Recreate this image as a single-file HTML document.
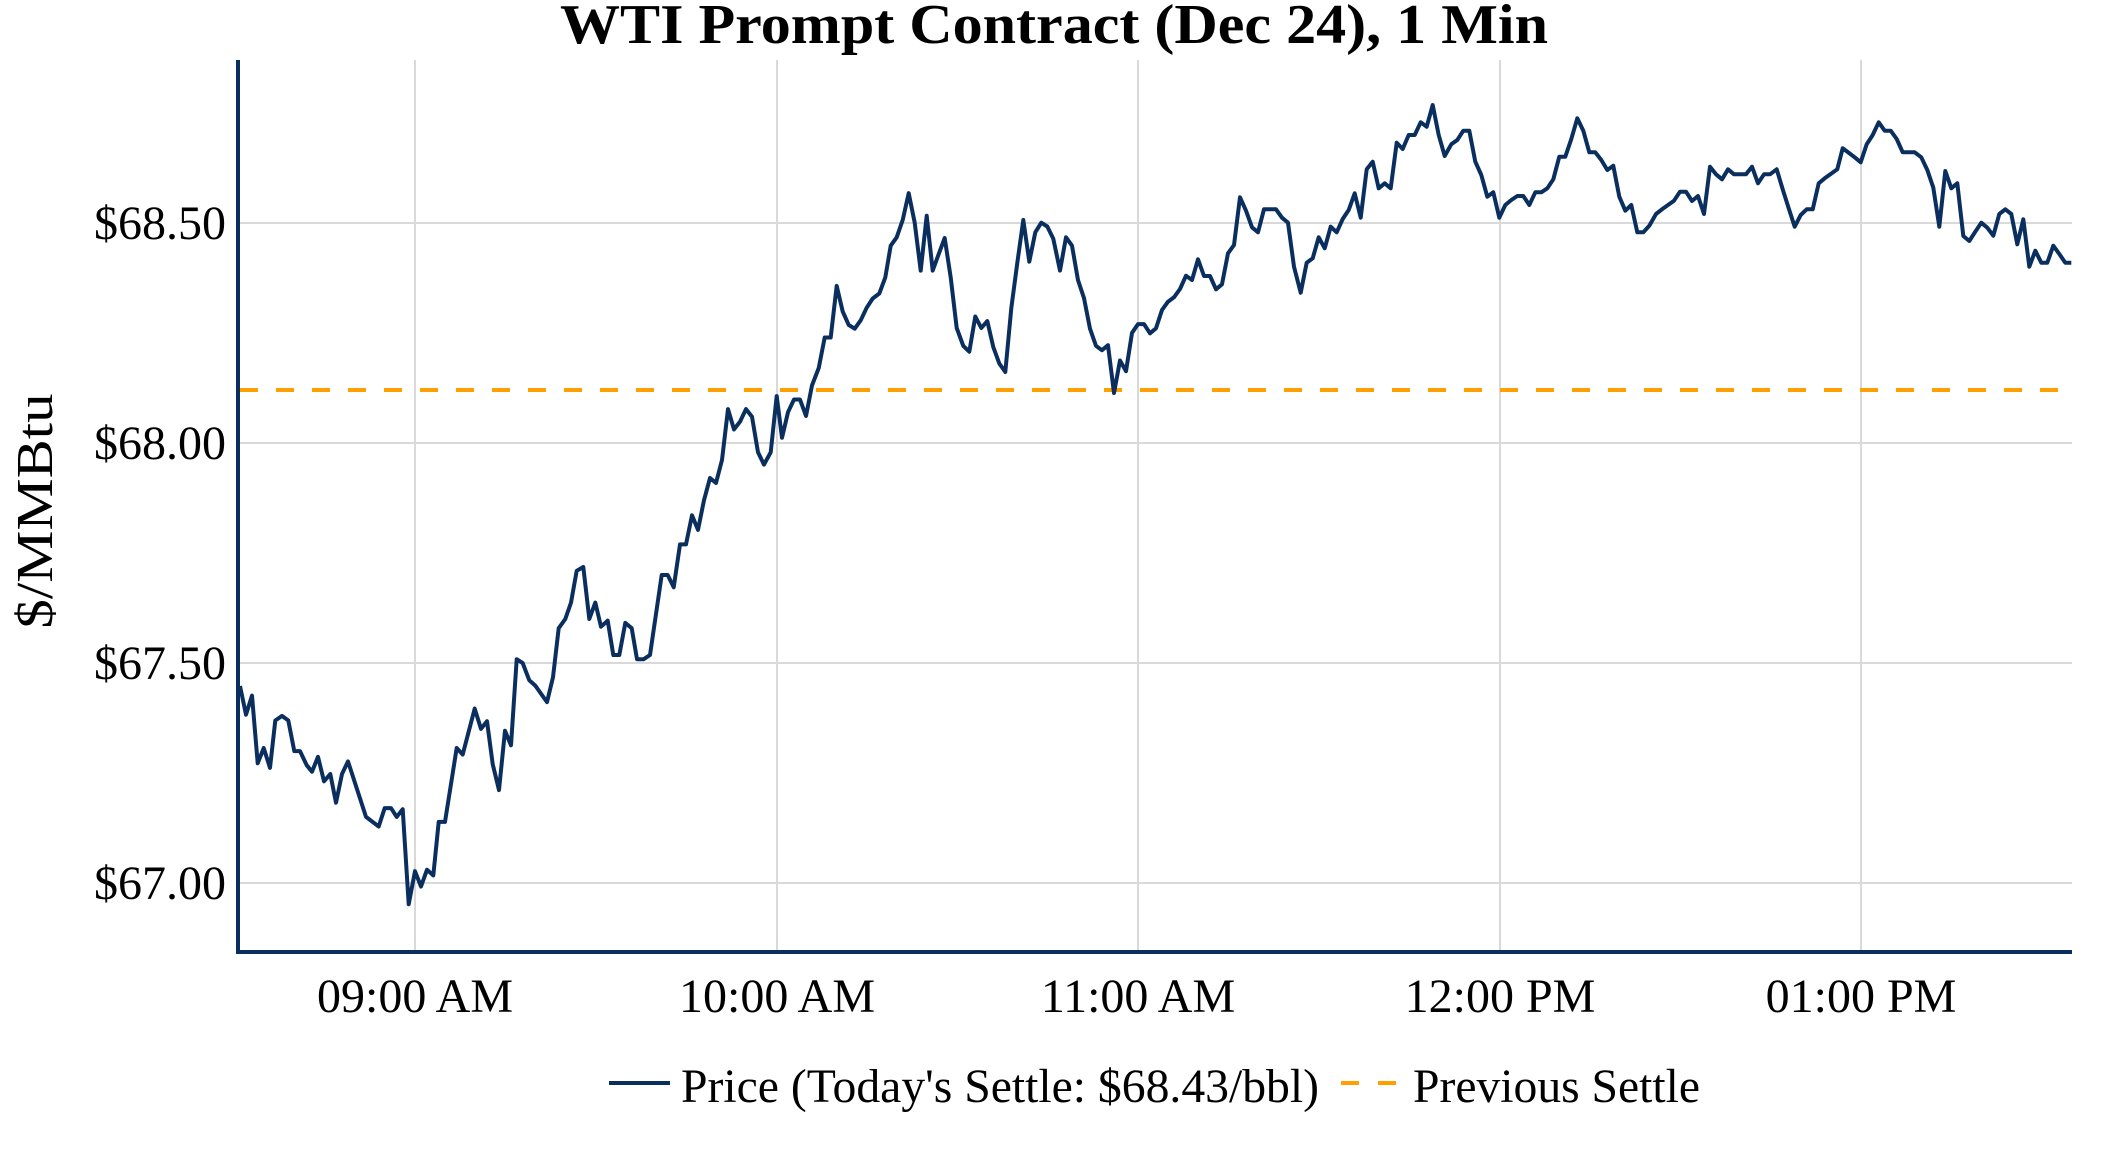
<!DOCTYPE html>
<html><head><meta charset="utf-8"><style>html,body{margin:0;padding:0;background:#fff}svg{display:block}text{font-family:"Liberation Serif",serif;fill:#000}</style></head>
<body>
<svg id="s" width="2112" height="1152" viewBox="0 0 2112 1152" xmlns="http://www.w3.org/2000/svg">
<rect width="2112" height="1152" fill="#fff"/>
<g stroke="#d9d9d9" stroke-width="2">
<line x1="240" y1="223" x2="2072" y2="223"/><line x1="240" y1="443" x2="2072" y2="443"/><line x1="240" y1="663" x2="2072" y2="663"/><line x1="240" y1="883" x2="2072" y2="883"/>
<line x1="415" y1="60" x2="415" y2="950"/><line x1="777" y1="60" x2="777" y2="950"/><line x1="1138" y1="60" x2="1138" y2="950"/><line x1="1500" y1="60" x2="1500" y2="950"/><line x1="1861" y1="60" x2="1861" y2="950"/>
</g>
<line x1="240" y1="390" x2="2072" y2="390" stroke="#ffa000" stroke-width="4" stroke-dasharray="18 18"/>
<polyline id="p" fill="none" stroke="#0a2f5f" stroke-width="4" stroke-linejoin="round"/>
<line x1="238" y1="60" x2="238" y2="954" stroke="#0a2f5f" stroke-width="4"/>
<line x1="236" y1="952" x2="2072" y2="952" stroke="#0a2f5f" stroke-width="4"/>
<text x="1054" y="43" font-size="56" font-weight="bold" text-anchor="middle" textLength="988" lengthAdjust="spacingAndGlyphs">WTI Prompt Contract (Dec 24), 1 Min</text>
<g font-size="48" text-anchor="end">
<text x="226" y="239">$68.50</text><text x="226" y="459">$68.00</text><text x="226" y="679">$67.50</text><text x="226" y="899">$67.00</text>
</g>
<g font-size="48" text-anchor="middle">
<text x="415" y="1012">09:00 AM</text><text x="777" y="1012">10:00 AM</text><text x="1138" y="1012">11:00 AM</text><text x="1500" y="1012">12:00 PM</text><text x="1861" y="1012">01:00 PM</text>
</g>
<text transform="translate(52,511) rotate(-90)" font-size="52" text-anchor="middle" textLength="235" lengthAdjust="spacingAndGlyphs">$/MMBtu</text>
<line x1="609" y1="1083" x2="670" y2="1083" stroke="#0a2f5f" stroke-width="4"/>
<text x="681" y="1102" font-size="48" textLength="638" lengthAdjust="spacingAndGlyphs">Price (Today's Settle: $68.43/bbl)</text>
<line x1="1341" y1="1083" x2="1359" y2="1083" stroke="#ffa000" stroke-width="4"/>
<line x1="1378" y1="1083" x2="1396" y2="1083" stroke="#ffa000" stroke-width="4"/>
<text x="1413" y="1102" font-size="48" textLength="287" lengthAdjust="spacingAndGlyphs">Previous Settle</text>
</svg>
<script>
var pts=[];
function add(x0,y0,sx,sy,a){for(var i=0;i<a.length;i+=2)pts.push((x0+a[i]/sx).toFixed(1)+','+(y0+a[i+1]/sy).toFixed(1));}
add(236,350,3,2.613,[12,878,30,953,48,903,65,1080,83,1040,102,1092,118,968,138,956,157,968,175,1048,192,1048,212,1085,228,1102,246,1063,264,1127,283,1108,300,1183,318,1108,336,1075,390,1220,428,1245,446,1197,465,1197,482,1220,500,1200,518,1448,537,1362,555,1402,573,1358,592,1373,608,1233,627,1233,662,1040,680,1057,716,937,735,990,753,970,770,1082,789,1150,807,995,825,1033,842,808,860,818,880,863,898,877,933,920,951,855,968,727,988,703,1005,660,1022,577,1042,567,1060,703,1078,660,1095,723,1115,707,1132,797,1150,797,1168,713,1187,727,1203,808,1223,808,1242,797,1277,588,1295,588,1313,620,1332,508,1350,508,1368,432,1386,470]);
add(700,150,3,2.613,[12,915,30,857,48,870,66,810,84,677,102,730,120,710,138,677,156,697,174,790,192,822,212,790,230,643,246,752,264,685,282,652,300,652,318,695,336,615,356,570,374,490,392,490,410,355,428,422,446,457,464,467,482,445,500,412,518,388,538,375,556,333,572,250,590,228,608,183,626,113,644,190,662,315,680,172,698,315,716,272,734,230,752,333,770,465,790,512,808,527,826,435,844,465,862,447,880,515,898,558,916,580,934,413,952,295,970,183,988,292,1006,215,1024,190,1042,200,1060,232,1080,315,1098,228,1116,250,1134,340,1152,387,1170,467,1188,512,1206,523,1224,510,1242,635,1260,550,1278,578,1296,478,1314,455,1332,455]);
add(1150,80,3,3,[0,760,18,745,36,690,54,665,72,652,90,627,108,587,126,600,144,538,162,588,180,588,198,628,216,613,234,520,252,495,270,352,288,392,306,442,324,457,342,388,378,388,396,413,414,428,432,560,452,638,470,548,488,535,506,472,524,505,542,440,560,457,578,417,596,390,614,340,632,413,650,268,668,245,686,325,704,310,722,325,740,188,758,207,776,165,794,165,812,127,830,140,848,75,866,165,884,228,904,193,922,180,940,152,958,152,976,245,994,285,1012,350,1030,337,1048,413,1066,375,1084,360,1102,348,1120,348,1138,375,1156,337,1174,337,1192,325,1210,298,1228,230,1246,230,1264,177,1282,115,1300,152,1318,217,1336,217,1354,240,1372,270,1390,257,1408,350,1426,392,1444,375,1462,457,1480,457,1498,437]);
add(1620,80,3,3,[108,402,126,388,144,375,162,362,180,335,198,335,216,363,234,348,252,402,270,260,288,283,306,298,324,268,342,283,378,283,396,260,414,310,432,283,450,283,470,268,488,328,506,385,524,440,542,405,560,388,578,388,596,310,614,295,632,282,652,268,668,205,686,218,704,232,722,247,740,193,758,165,776,127,794,152,812,152,830,177,848,217,884,217,904,232,922,270,940,323,958,440,976,273,994,325,1012,310,1030,468,1048,483,1066,455,1084,428,1102,443,1120,467,1138,402,1156,388,1174,402,1192,493,1210,418,1228,560,1246,512,1264,548,1282,548,1300,497,1318,522,1336,548,1354,548]);
document.getElementById('p').setAttribute('points',pts.join(' '));
</script>
</body></html>
